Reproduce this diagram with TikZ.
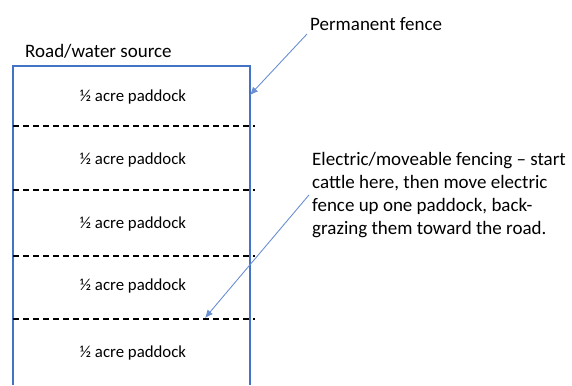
\documentclass[tikz,border=0pt]{standalone}
\usepackage{fontspec}
\setmainfont{Carlito}
\usetikzlibrary{arrows.meta}
\definecolor{fenceblue}{HTML}{4472C4}
\definecolor{arrowblue}{HTML}{6A8FD3}
\tikzset{paddock/.style={font=\fontsize{16.8}{18}\selectfont},
  note/.style={font=\fontsize{19}{23}\selectfont, align=left, inner sep=3pt},
  pointer/.style={arrowblue, line width=0.9pt, -{Latex[length=8pt,width=7pt]}}}

\begin{document}
\begin{tikzpicture}[x=1pt,y=-1pt]
\useasboundingbox (0,0) rectangle (572,385);
\draw[fenceblue, line width=1.3pt] (13,385) -- (13,66) -- (250,66) -- (250,385);
\foreach \y in {126,190,256,319} {
 \draw[black, line width=1.4pt, dash pattern=on 6pt off 4pt] (13,\y) -- (255,\y);
}
\foreach \n/\y in {1/97,2/160,3/224,4/286,5/353} {
 \node[paddock] (p\n) at (133,\y) {½ acre paddock};
}
\node[note, anchor=west] (road) at (22,51) {Road/water source};
\node[note, anchor=south west] (perm) at (307,34) {Permanent fence};
\node[note, anchor=north west] (elec) at (309,149) {Electric/moveable fencing -- start\\cattle here, then move electric\\fence up one paddock, back-\\grazing them toward the road.};
\coordinate (permtip) at (250,95);
\coordinate (electip) at (205,318);
\draw[pointer] (perm.south west) -- (permtip);
\draw[pointer] (elec.west) -- (electip);
\end{tikzpicture}
\end{document}
